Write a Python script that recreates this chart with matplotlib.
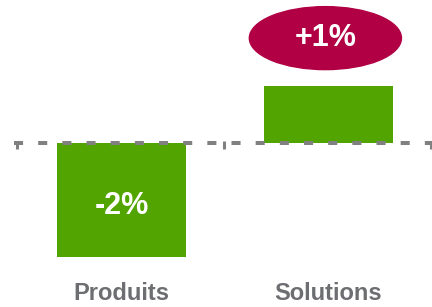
import matplotlib as mpl
mpl.use('Agg')
import matplotlib.pyplot as plt
from matplotlib.patches import Ellipse

categories = ['Produits', 'Solutions']
values = [-2, 1]          # variation en %
labels = ['-2%', '+1%']

green = '#52A500'
grey_line = '#808080'
grey_text = '#6D6E71'
crimson = '#B10044'

plt.rcParams['font.family'] = ['Liberation Sans', 'DejaVu Sans']

W, H = 432, 307
fig = plt.figure(figsize=(W / 100, H / 100), dpi=100)
# axes: left edge at category boundary, baseline 164 px from bottom, 57 px per point
left_px = 18
ax = fig.add_axes([left_px / W, 0, (W - left_px) / W, 1])
base_px = 164
scale = 57
ax.set_ylim(-base_px / scale, (H - base_px) / scale)
ax.set_xlim(-0.5, len(categories) - 0.5)

x = list(range(len(categories)))
ax.bar(x, values, width=0.625, color=green, zorder=2)

# dashed baseline
ax.axhline(0, xmin=-4 / (W - left_px), xmax=1, color=grey_line, lw=2.9,
           linestyle=(0, (2.25, 3.75)), zorder=3, clip_on=False)

for spine in ax.spines.values():
    spine.set_visible(False)
ax.set_yticks([])
ax.set_xticks([])

# category boundary ticks
for b in [i - 0.5 for i in range(len(categories) + 1)]:
    ax.plot([b - 0.007, b - 0.007], [0.03, -0.11], color=grey_line, lw=2.2,
            solid_capstyle='butt', zorder=3, clip_on=False)

for xi, v, lab, cat in zip(x, values, labels, categories):
    if v < 0:
        ax.text(xi, v / 2 - 0.1, lab, ha='center', va='center', color='white',
                fontsize=22, fontweight='bold', zorder=4)
    else:
        cy = v + 0.84
        ax.add_patch(Ellipse((xi - 0.015, cy), 0.735, 1.105, color=crimson, zorder=4))
        ax.text(xi - 0.015, cy, lab, ha='center', va='center', color='white',
                fontsize=22, fontweight='bold', zorder=5)
    ax.text(xi, 7.5 / H, cat, transform=ax.get_xaxis_transform(), ha='center',
            va='baseline', color=grey_text, fontsize=17, fontweight='bold')

fig.savefig('out.png', dpi=100)
